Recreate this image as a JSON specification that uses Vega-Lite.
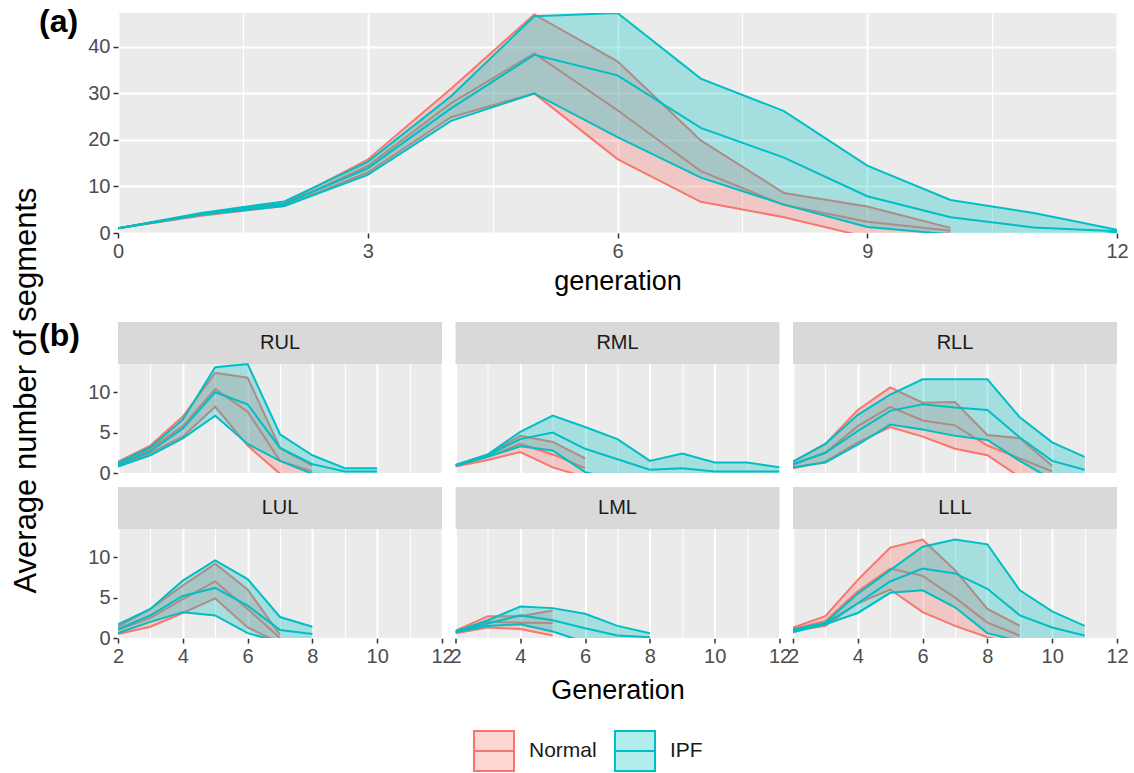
{
  "$schema": "https://vega.github.io/schema/vega-lite/v6.json",
  "padding": {"left": 10, "top": 6, "right": 5, "bottom": 5},
  "bounds": "flush",
  "spacing": 89,
  "config": {
    "font": "Liberation Sans",
    "view": {"fill": "#EBEBEB", "stroke": null},
    "axis": {"domain": false, "gridColor": "#FFFFFF", "tickColor": "#333333", "tickWidth": 1.5, "tickSize": 5, "labelColor": "#4D4D4D", "labelFontSize": 20, "labelPadding": 3, "titleColor": "#000000", "titleFontWeight": "normal", "titleFontSize": 27, "labelFlush": false, "labelOverlap": false},
    "header": {"titleFontSize": 27, "titleColor": "#000000", "titleFontWeight": "normal", "titleFont": "Liberation Sans"}
  },
  "datasets": {
    "a": [
      {"group": "Normal", "generation": 0, "lower": 1, "mean": 1, "upper": 1},
      {"group": "Normal", "generation": 1, "lower": 3.7, "mean": 3.9, "upper": 4.1},
      {"group": "Normal", "generation": 2, "lower": 5.8, "mean": 6.1, "upper": 6.4},
      {"group": "Normal", "generation": 3, "lower": 13.0, "mean": 14.4, "upper": 15.8},
      {"group": "Normal", "generation": 4, "lower": 24.9, "mean": 27.9, "upper": 31.0},
      {"group": "Normal", "generation": 5, "lower": 30.0, "mean": 38.6, "upper": 47.0},
      {"group": "Normal", "generation": 6, "lower": 15.9, "mean": 26.4, "upper": 36.9},
      {"group": "Normal", "generation": 7, "lower": 6.7, "mean": 13.3, "upper": 19.9},
      {"group": "Normal", "generation": 8, "lower": 3.4, "mean": 6.0, "upper": 8.6},
      {"group": "Normal", "generation": 9, "lower": -0.9, "mean": 2.4, "upper": 5.7},
      {"group": "Normal", "generation": 10, "lower": -0.1, "mean": 0.5, "upper": 1.1},
      {"group": "IPF", "generation": 0, "lower": 1, "mean": 1, "upper": 1},
      {"group": "IPF", "generation": 1, "lower": 3.9, "mean": 4.1, "upper": 4.3},
      {"group": "IPF", "generation": 2, "lower": 5.8, "mean": 6.3, "upper": 6.8},
      {"group": "IPF", "generation": 3, "lower": 12.5, "mean": 13.9, "upper": 15.3},
      {"group": "IPF", "generation": 4, "lower": 24.1, "mean": 26.8, "upper": 29.4},
      {"group": "IPF", "generation": 5, "lower": 30.0, "mean": 38.3, "upper": 46.6},
      {"group": "IPF", "generation": 6, "lower": 20.6, "mean": 33.9, "upper": 47.3},
      {"group": "IPF", "generation": 7, "lower": 11.9, "mean": 22.6, "upper": 33.2},
      {"group": "IPF", "generation": 8, "lower": 6.1, "mean": 16.2, "upper": 26.2},
      {"group": "IPF", "generation": 9, "lower": 1.3, "mean": 7.9, "upper": 14.5},
      {"group": "IPF", "generation": 10, "lower": -0.3, "mean": 3.4, "upper": 7.1},
      {"group": "IPF", "generation": 11, "lower": -1.9, "mean": 1.2, "upper": 4.3},
      {"group": "IPF", "generation": 12, "lower": 0.1, "mean": 0.4, "upper": 0.7}
    ],
    "b": [
      {"region": "RUL", "side": "R", "lobe": "UL", "group": "Normal", "generation": 2, "lower": 0.8, "mean": 1.1, "upper": 1.4},
      {"region": "RUL", "side": "R", "lobe": "UL", "group": "Normal", "generation": 3, "lower": 2.5, "mean": 3.0, "upper": 3.4},
      {"region": "RUL", "side": "R", "lobe": "UL", "group": "Normal", "generation": 4, "lower": 4.5, "mean": 5.8, "upper": 7.0},
      {"region": "RUL", "side": "R", "lobe": "UL", "group": "Normal", "generation": 5, "lower": 8.2, "mean": 10.4, "upper": 12.4},
      {"region": "RUL", "side": "R", "lobe": "UL", "group": "Normal", "generation": 6, "lower": 3.4, "mean": 7.6, "upper": 11.8},
      {"region": "RUL", "side": "R", "lobe": "UL", "group": "Normal", "generation": 7, "lower": -0.1, "mean": 1.5, "upper": 3.1},
      {"region": "RUL", "side": "R", "lobe": "UL", "group": "Normal", "generation": 8, "lower": -0.5, "mean": 0.2, "upper": 0.9},
      {"region": "RUL", "side": "R", "lobe": "UL", "group": "IPF", "generation": 2, "lower": 0.8, "mean": 1.0, "upper": 1.25},
      {"region": "RUL", "side": "R", "lobe": "UL", "group": "IPF", "generation": 3, "lower": 2.2, "mean": 2.7, "upper": 3.2},
      {"region": "RUL", "side": "R", "lobe": "UL", "group": "IPF", "generation": 4, "lower": 4.3, "mean": 5.5, "upper": 6.6},
      {"region": "RUL", "side": "R", "lobe": "UL", "group": "IPF", "generation": 5, "lower": 7.1, "mean": 10.0, "upper": 13.1},
      {"region": "RUL", "side": "R", "lobe": "UL", "group": "IPF", "generation": 6, "lower": 3.6, "mean": 8.5, "upper": 13.5},
      {"region": "RUL", "side": "R", "lobe": "UL", "group": "IPF", "generation": 7, "lower": 1.5, "mean": 3.1, "upper": 4.8},
      {"region": "RUL", "side": "R", "lobe": "UL", "group": "IPF", "generation": 8, "lower": -0.1, "mean": 1.1, "upper": 2.2},
      {"region": "RUL", "side": "R", "lobe": "UL", "group": "IPF", "generation": 9, "lower": -0.2, "mean": 0.2, "upper": 0.6},
      {"region": "RUL", "side": "R", "lobe": "UL", "group": "IPF", "generation": 10, "lower": -0.2, "mean": 0.2, "upper": 0.6},
      {"region": "RML", "side": "R", "lobe": "ML", "group": "Normal", "generation": 2, "lower": 0.8, "mean": 0.9, "upper": 1.0},
      {"region": "RML", "side": "R", "lobe": "ML", "group": "Normal", "generation": 3, "lower": 1.6, "mean": 2.0, "upper": 2.3},
      {"region": "RML", "side": "R", "lobe": "ML", "group": "Normal", "generation": 4, "lower": 2.6, "mean": 3.6, "upper": 4.6},
      {"region": "RML", "side": "R", "lobe": "ML", "group": "Normal", "generation": 5, "lower": 0.7, "mean": 2.3, "upper": 3.85},
      {"region": "RML", "side": "R", "lobe": "ML", "group": "Normal", "generation": 6, "lower": -0.5, "mean": 0.6, "upper": 1.8},
      {"region": "RML", "side": "R", "lobe": "ML", "group": "IPF", "generation": 2, "lower": 0.9, "mean": 0.95, "upper": 1.0},
      {"region": "RML", "side": "R", "lobe": "ML", "group": "IPF", "generation": 3, "lower": 2.0, "mean": 2.2, "upper": 2.3},
      {"region": "RML", "side": "R", "lobe": "ML", "group": "IPF", "generation": 4, "lower": 3.3, "mean": 4.2, "upper": 5.1},
      {"region": "RML", "side": "R", "lobe": "ML", "group": "IPF", "generation": 5, "lower": 2.8, "mean": 5.0, "upper": 7.1},
      {"region": "RML", "side": "R", "lobe": "ML", "group": "IPF", "generation": 6, "lower": 0.1, "mean": 3.0, "upper": 5.7},
      {"region": "RML", "side": "R", "lobe": "ML", "group": "IPF", "generation": 7, "lower": -0.8, "mean": 1.7, "upper": 4.2},
      {"region": "RML", "side": "R", "lobe": "ML", "group": "IPF", "generation": 8, "lower": -0.7, "mean": 0.4, "upper": 1.5},
      {"region": "RML", "side": "R", "lobe": "ML", "group": "IPF", "generation": 9, "lower": -1.2, "mean": 0.6, "upper": 2.4},
      {"region": "RML", "side": "R", "lobe": "ML", "group": "IPF", "generation": 10, "lower": -0.9, "mean": 0.2, "upper": 1.3},
      {"region": "RML", "side": "R", "lobe": "ML", "group": "IPF", "generation": 11, "lower": -0.9, "mean": 0.2, "upper": 1.3},
      {"region": "RML", "side": "R", "lobe": "ML", "group": "IPF", "generation": 12, "lower": -0.3, "mean": 0.2, "upper": 0.7},
      {"region": "RLL", "side": "R", "lobe": "LL", "group": "Normal", "generation": 2, "lower": 0.6, "mean": 1.0, "upper": 1.4},
      {"region": "RLL", "side": "R", "lobe": "LL", "group": "Normal", "generation": 3, "lower": 1.4, "mean": 2.5, "upper": 3.6},
      {"region": "RLL", "side": "R", "lobe": "LL", "group": "Normal", "generation": 4, "lower": 3.8, "mean": 5.8, "upper": 7.8},
      {"region": "RLL", "side": "R", "lobe": "LL", "group": "Normal", "generation": 5, "lower": 5.7, "mean": 8.2, "upper": 10.6},
      {"region": "RLL", "side": "R", "lobe": "LL", "group": "Normal", "generation": 6, "lower": 4.5, "mean": 6.5, "upper": 8.7},
      {"region": "RLL", "side": "R", "lobe": "LL", "group": "Normal", "generation": 7, "lower": 3.0, "mean": 5.9, "upper": 8.8},
      {"region": "RLL", "side": "R", "lobe": "LL", "group": "Normal", "generation": 8, "lower": 2.2, "mean": 3.4, "upper": 4.7},
      {"region": "RLL", "side": "R", "lobe": "LL", "group": "Normal", "generation": 9, "lower": -0.5, "mean": 1.8, "upper": 4.3},
      {"region": "RLL", "side": "R", "lobe": "LL", "group": "Normal", "generation": 10, "lower": -0.5, "mean": 0.2, "upper": 0.9},
      {"region": "RLL", "side": "R", "lobe": "LL", "group": "IPF", "generation": 2, "lower": 0.7, "mean": 1.1, "upper": 1.4},
      {"region": "RLL", "side": "R", "lobe": "LL", "group": "IPF", "generation": 3, "lower": 1.3, "mean": 2.5, "upper": 3.6},
      {"region": "RLL", "side": "R", "lobe": "LL", "group": "IPF", "generation": 4, "lower": 3.5, "mean": 5.2, "upper": 7.2},
      {"region": "RLL", "side": "R", "lobe": "LL", "group": "IPF", "generation": 5, "lower": 6.0, "mean": 7.7, "upper": 9.7},
      {"region": "RLL", "side": "R", "lobe": "LL", "group": "IPF", "generation": 6, "lower": 5.4, "mean": 8.5, "upper": 11.6},
      {"region": "RLL", "side": "R", "lobe": "LL", "group": "IPF", "generation": 7, "lower": 4.6, "mean": 8.1, "upper": 11.6},
      {"region": "RLL", "side": "R", "lobe": "LL", "group": "IPF", "generation": 8, "lower": 4.1, "mean": 7.8, "upper": 11.6},
      {"region": "RLL", "side": "R", "lobe": "LL", "group": "IPF", "generation": 9, "lower": 1.5, "mean": 4.4, "upper": 6.9},
      {"region": "RLL", "side": "R", "lobe": "LL", "group": "IPF", "generation": 10, "lower": -0.8, "mean": 1.5, "upper": 3.8},
      {"region": "RLL", "side": "R", "lobe": "LL", "group": "IPF", "generation": 11, "lower": -1.2, "mean": 0.4, "upper": 2.0},
      {"region": "LUL", "side": "L", "lobe": "UL", "group": "Normal", "generation": 2, "lower": 0.5, "mean": 1.0, "upper": 1.4},
      {"region": "LUL", "side": "L", "lobe": "UL", "group": "Normal", "generation": 3, "lower": 1.4, "mean": 2.5, "upper": 3.6},
      {"region": "LUL", "side": "L", "lobe": "UL", "group": "Normal", "generation": 4, "lower": 3.1, "mean": 4.8, "upper": 6.5},
      {"region": "LUL", "side": "L", "lobe": "UL", "group": "Normal", "generation": 5, "lower": 4.9, "mean": 7.0, "upper": 9.2},
      {"region": "LUL", "side": "L", "lobe": "UL", "group": "Normal", "generation": 6, "lower": 1.3, "mean": 3.6, "upper": 6.0},
      {"region": "LUL", "side": "L", "lobe": "UL", "group": "Normal", "generation": 7, "lower": -0.6, "mean": 0.0, "upper": 0.4},
      {"region": "LUL", "side": "L", "lobe": "UL", "group": "IPF", "generation": 2, "lower": 0.6, "mean": 1.1, "upper": 1.7},
      {"region": "LUL", "side": "L", "lobe": "UL", "group": "IPF", "generation": 3, "lower": 2.0, "mean": 2.8, "upper": 3.6},
      {"region": "LUL", "side": "L", "lobe": "UL", "group": "IPF", "generation": 4, "lower": 3.2, "mean": 5.2, "upper": 7.1},
      {"region": "LUL", "side": "L", "lobe": "UL", "group": "IPF", "generation": 5, "lower": 2.8, "mean": 6.2, "upper": 9.6},
      {"region": "LUL", "side": "L", "lobe": "UL", "group": "IPF", "generation": 6, "lower": 0.6, "mean": 4.0, "upper": 7.3},
      {"region": "LUL", "side": "L", "lobe": "UL", "group": "IPF", "generation": 7, "lower": -0.5, "mean": 1.0, "upper": 2.6},
      {"region": "LUL", "side": "L", "lobe": "UL", "group": "IPF", "generation": 8, "lower": -0.4, "mean": 0.5, "upper": 1.4},
      {"region": "LML", "side": "L", "lobe": "ML", "group": "Normal", "generation": 2, "lower": 0.6, "mean": 0.75, "upper": 0.9},
      {"region": "LML", "side": "L", "lobe": "ML", "group": "Normal", "generation": 3, "lower": 1.3, "mean": 2.0, "upper": 2.7},
      {"region": "LML", "side": "L", "lobe": "ML", "group": "Normal", "generation": 4, "lower": 1.1, "mean": 1.9, "upper": 2.7},
      {"region": "LML", "side": "L", "lobe": "ML", "group": "Normal", "generation": 5, "lower": 0.3, "mean": 1.85, "upper": 3.4},
      {"region": "LML", "side": "L", "lobe": "ML", "group": "IPF", "generation": 2, "lower": 0.7, "mean": 0.75, "upper": 0.8},
      {"region": "LML", "side": "L", "lobe": "ML", "group": "IPF", "generation": 3, "lower": 1.5, "mean": 1.8, "upper": 2.2},
      {"region": "LML", "side": "L", "lobe": "ML", "group": "IPF", "generation": 4, "lower": 1.7, "mean": 2.8, "upper": 3.9},
      {"region": "LML", "side": "L", "lobe": "ML", "group": "IPF", "generation": 5, "lower": 0.8, "mean": 2.2, "upper": 3.7},
      {"region": "LML", "side": "L", "lobe": "ML", "group": "IPF", "generation": 6, "lower": -0.5, "mean": 1.2, "upper": 3.0},
      {"region": "LML", "side": "L", "lobe": "ML", "group": "IPF", "generation": 7, "lower": -0.9, "mean": 0.3, "upper": 1.5},
      {"region": "LML", "side": "L", "lobe": "ML", "group": "IPF", "generation": 8, "lower": -0.4, "mean": 0.1, "upper": 0.6},
      {"region": "LLL", "side": "L", "lobe": "LL", "group": "Normal", "generation": 2, "lower": 0.9, "mean": 1.1, "upper": 1.3},
      {"region": "LLL", "side": "L", "lobe": "LL", "group": "Normal", "generation": 3, "lower": 1.5, "mean": 2.1, "upper": 2.7},
      {"region": "LLL", "side": "L", "lobe": "LL", "group": "Normal", "generation": 4, "lower": 4.3, "mean": 5.8, "upper": 7.2},
      {"region": "LLL", "side": "L", "lobe": "LL", "group": "Normal", "generation": 5, "lower": 6.0, "mean": 8.6, "upper": 11.2},
      {"region": "LLL", "side": "L", "lobe": "LL", "group": "Normal", "generation": 6, "lower": 3.2, "mean": 7.7, "upper": 12.2},
      {"region": "LLL", "side": "L", "lobe": "LL", "group": "Normal", "generation": 7, "lower": 1.5, "mean": 5.0, "upper": 8.4},
      {"region": "LLL", "side": "L", "lobe": "LL", "group": "Normal", "generation": 8, "lower": 0.1, "mean": 1.9, "upper": 3.6},
      {"region": "LLL", "side": "L", "lobe": "LL", "group": "Normal", "generation": 9, "lower": -0.9, "mean": 0.3, "upper": 1.5},
      {"region": "LLL", "side": "L", "lobe": "LL", "group": "IPF", "generation": 2, "lower": 0.7, "mean": 0.85, "upper": 1.05},
      {"region": "LLL", "side": "L", "lobe": "LL", "group": "IPF", "generation": 3, "lower": 1.7, "mean": 1.8, "upper": 1.9},
      {"region": "LLL", "side": "L", "lobe": "LL", "group": "IPF", "generation": 4, "lower": 3.1, "mean": 4.3, "upper": 5.5},
      {"region": "LLL", "side": "L", "lobe": "LL", "group": "IPF", "generation": 5, "lower": 5.6, "mean": 7.0, "upper": 8.4},
      {"region": "LLL", "side": "L", "lobe": "LL", "group": "IPF", "generation": 6, "lower": 5.9, "mean": 8.6, "upper": 11.3},
      {"region": "LLL", "side": "L", "lobe": "LL", "group": "IPF", "generation": 7, "lower": 3.8, "mean": 8.0, "upper": 12.2},
      {"region": "LLL", "side": "L", "lobe": "LL", "group": "IPF", "generation": 8, "lower": 0.6, "mean": 6.1, "upper": 11.6},
      {"region": "LLL", "side": "L", "lobe": "LL", "group": "IPF", "generation": 9, "lower": -0.4, "mean": 2.8, "upper": 5.9},
      {"region": "LLL", "side": "L", "lobe": "LL", "group": "IPF", "generation": 10, "lower": -0.8, "mean": 1.3, "upper": 3.3},
      {"region": "LLL", "side": "L", "lobe": "LL", "group": "IPF", "generation": 11, "lower": -0.9, "mean": 0.3, "upper": 1.5}
    ]
  },
  "vconcat": [
    {
      "data": {"name": "a"},
      "width": 999,
      "height": 220,
      "title": {"text": "(a)", "anchor": "start", "frame": "group", "fontSize": 32, "fontWeight": "bold", "color": "#000000", "dx": -79, "dy": 26, "offset": 0},
      "encoding": {
        "x": {"field": "generation", "type": "quantitative", "scale": {"domain": [0, 12], "nice": false},
          "axis": {"title": "generation", "titlePadding": 7, "values": [0, 1.5, 3, 4.5, 6, 7.5, 9, 10.5, 12], "format": "d",
            "labelExpr": "datum.value % 3 === 0 ? datum.label : ''",
            "tickOpacity": {"condition": {"test": "datum.value % 3 === 0", "value": 1}, "value": 0},
            "gridWidth": {"condition": {"test": "datum.value % 3 === 0", "value": 2}, "value": 1}}}
      },
      "layer": [
        {
          "transform": [{"filter": "datum.group === 'Normal'"}],
          "mark": {"type": "area", "clip": true},
          "encoding": {
            "y": {"field": "lower", "type": "quantitative", "scale": {"domain": [0, 47.3], "nice": false, "zero": false},
              "axis": {"title": "Average number of segments", "titleFontSize": 31, "titleX": -92, "titleY": 377, "titleBaseline": "middle", "values": [0, 5, 10, 15, 20, 25, 30, 35, 40, 45],
                "labelExpr": "datum.value % 10 === 0 ? datum.label : ''",
                "tickOpacity": {"condition": {"test": "datum.value % 10 === 0", "value": 1}, "value": 0},
                "gridWidth": {"condition": {"test": "datum.value % 10 === 0", "value": 2}, "value": 1}}},
            "y2": {"field": "upper"},
            "fill": {"field": "group", "type": "nominal", "scale": {"domain": ["Normal", "IPF"], "range": ["rgba(248,118,109,0.3)", "rgba(0,191,196,0.3)"]},
              "legend": {"title": null, "orient": "none", "legendX": 355, "legendY": 717, "direction": "horizontal", "symbolType": "M-1,-1H1V1H-1Z M-1,0H1Z", "symbolSize": 1600, "symbolStrokeWidth": 2, "labelFontSize": 21, "labelColor": "#1A1A1A", "labelOffset": 14, "columnPadding": 14, "padding": 0}}
          }
        },
        {
          "transform": [{"filter": "datum.group === 'Normal'"}, {"fold": ["lower", "mean", "upper"], "as": ["stat", "value"]}],
          "mark": {"type": "line", "strokeWidth": 2, "clip": true},
          "encoding": {
            "y": {"field": "value", "type": "quantitative", "scale": {"domain": [0, 47.3], "nice": false, "zero": false}, "axis": {"title": "Average number of segments"}},
            "stroke": {"field": "group", "type": "nominal", "scale": {"domain": ["Normal", "IPF"], "range": ["#F8766D", "#00BFC4"]},
              "legend": {"title": null, "orient": "none", "legendX": 355, "legendY": 717, "direction": "horizontal", "symbolType": "M-1,-1H1V1H-1Z M-1,0H1Z", "symbolSize": 1600, "symbolStrokeWidth": 2, "labelFontSize": 21, "labelColor": "#1A1A1A", "labelOffset": 14, "columnPadding": 14, "padding": 0}},
            "detail": {"field": "stat"}
          }
        },
        {
          "transform": [{"filter": "datum.group === 'IPF'"}],
          "mark": {"type": "area", "clip": true},
          "encoding": {
            "y": {"field": "lower", "type": "quantitative", "scale": {"domain": [0, 47.3], "nice": false, "zero": false}, "axis": {"title": "Average number of segments"}},
            "y2": {"field": "upper"},
            "fill": {"field": "group", "type": "nominal"}
          }
        },
        {
          "transform": [{"filter": "datum.group === 'IPF'"}, {"fold": ["lower", "mean", "upper"], "as": ["stat", "value"]}],
          "mark": {"type": "line", "strokeWidth": 2, "clip": true},
          "encoding": {
            "y": {"field": "value", "type": "quantitative", "scale": {"domain": [0, 47.3], "nice": false, "zero": false}, "axis": {"title": "Average number of segments"}},
            "stroke": {"field": "group", "type": "nominal"},
            "detail": {"field": "stat"}
          }
        }
      ]
    },
    {
      "data": {"name": "b"},
      "title": {"text": "(b)", "anchor": "start", "frame": "group", "fontSize": 32, "fontWeight": "bold", "color": "#000000", "dx": -79, "dy": 31, "offset": 0},
      "spacing": {"row": 14, "column": 13.5},
      "facet": {
        "row": {"field": "side", "type": "nominal", "sort": ["R", "L"], "title": null, "header": {"labels": false, "title": null}},
        "column": {"field": "lobe", "type": "nominal", "sort": ["UL", "ML", "LL"], "title": "Generation", "header": {"labels": false, "titleOrient": "bottom", "titleFontSize": 27, "titleColor": "#000000", "titleFontWeight": "normal", "titlePadding": 2}}
      },
      "spec": {
        "width": 324,
        "height": 151,
        "encoding": {
          "x": {"field": "generation", "type": "quantitative", "scale": {"domain": [2, 12], "nice": false},
            "axis": {"title": null, "values": [2, 3, 4, 5, 6, 7, 8, 9, 10, 11, 12], "format": "d",
              "labelExpr": "datum.value % 2 === 0 ? datum.label : ''",
              "tickOpacity": {"condition": {"test": "datum.value % 2 === 0", "value": 1}, "value": 0},
              "gridWidth": {"condition": {"test": "datum.value % 2 === 0", "value": 2}, "value": 1}}}
        },
        "layer": [
          {
            "transform": [{"filter": "datum.group === 'Normal' && datum.generation === 2"}],
            "mark": {"type": "rect", "fill": "#D9D9D9"},
            "encoding": {
              "x": {"datum": 2, "type": "quantitative"},
              "x2": {"datum": 12},
              "y": {"datum": 13.5, "type": "quantitative", "scale": {"domain": [0, 18.7], "nice": false, "zero": false},
                "axis": {"title": null, "values": [0, 2.5, 5, 7.5, 10, 12.5],
                  "labelExpr": "datum.value % 5 === 0 ? datum.label : ''",
                  "tickOpacity": {"condition": {"test": "datum.value % 5 === 0", "value": 1}, "value": 0},
                  "gridWidth": {"condition": {"test": "datum.value % 5 === 0", "value": 2}, "value": 1}}},
              "y2": {"datum": 18.7}
            }
          },
          {
            "transform": [{"filter": "datum.group === 'Normal' && datum.generation === 2"}],
            "mark": {"type": "text", "fontSize": 20, "color": "#1A1A1A", "baseline": "middle", "align": "center"},
            "encoding": {
              "text": {"field": "region", "type": "nominal"},
              "x": {"datum": 7, "type": "quantitative"},
              "y": {"datum": 16.1, "type": "quantitative"}
            }
          },
          {
            "transform": [{"filter": "datum.group === 'Normal'"}],
            "mark": {"type": "area", "clip": true},
            "encoding": {
              "y": {"field": "lower", "type": "quantitative", "axis": {"title": null}},
              "y2": {"field": "upper"},
              "fill": {"field": "group", "type": "nominal"}
            }
          },
          {
            "transform": [{"filter": "datum.group === 'Normal'"}, {"fold": ["lower", "mean", "upper"], "as": ["stat", "value"]}],
            "mark": {"type": "line", "strokeWidth": 2, "clip": true},
            "encoding": {
              "y": {"field": "value", "type": "quantitative", "axis": {"title": null}},
              "stroke": {"field": "group", "type": "nominal"},
              "detail": {"field": "stat"}
            }
          },
          {
            "transform": [{"filter": "datum.group === 'IPF'"}],
            "mark": {"type": "area", "clip": true},
            "encoding": {
              "y": {"field": "lower", "type": "quantitative", "axis": {"title": null}},
              "y2": {"field": "upper"},
              "fill": {"field": "group", "type": "nominal"}
            }
          },
          {
            "transform": [{"filter": "datum.group === 'IPF'"}, {"fold": ["lower", "mean", "upper"], "as": ["stat", "value"]}],
            "mark": {"type": "line", "strokeWidth": 2, "clip": true},
            "encoding": {
              "y": {"field": "value", "type": "quantitative", "axis": {"title": null}},
              "stroke": {"field": "group", "type": "nominal"},
              "detail": {"field": "stat"}
            }
          }
        ]
      }
    }
  ]
}
